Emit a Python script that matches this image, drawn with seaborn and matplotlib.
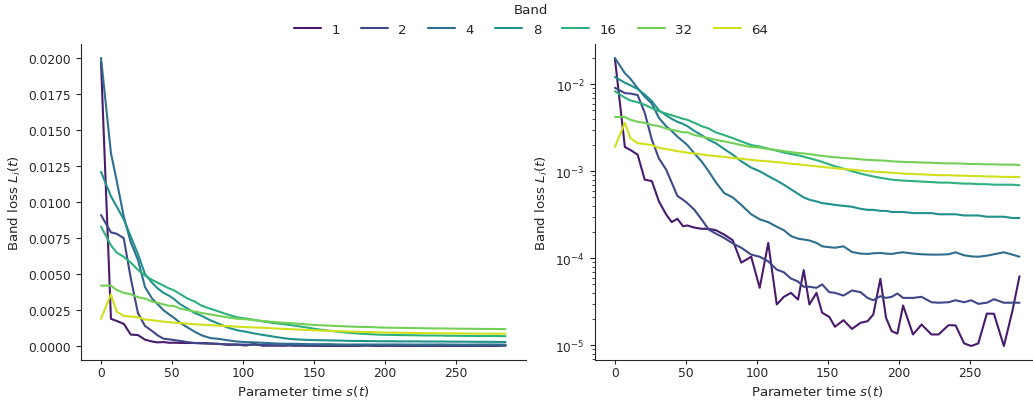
import numpy as np
import pandas as pd
import matplotlib
matplotlib.use("Agg")
import matplotlib.pyplot as plt
import seaborn as sns

# parameter time s(t) at each logged step
s = [0, 7, 11, 16, 21, 26, 31, 36, 40, 44, 48, 51, 56, 61, 66, 71, 77, 83, 89, 96,
     102, 108, 114, 119, 124, 129, 133, 137, 142, 146, 151, 155, 161, 167, 173, 178,
     182, 187, 191, 195, 199, 203, 210, 216, 223, 228, 235, 240, 246, 251, 256, 262,
     267, 274, 280, 285]

bands = [1, 2, 4, 8, 16, 32, 64]

loss_1 = [0.0197, 0.0019, 0.00175, 0.00155, 0.0008, 0.00077, 0.00045, 0.00032, 0.00026,
          0.000284, 0.000233, 0.000238, 0.000225, 0.000218, 0.000218, 0.00021, 0.000187,
          0.000161, 8.9e-05, 0.000104, 4.57e-05, 0.00015, 2.94e-05, 3.6e-05, 4e-05,
          3.35e-05, 7.3e-05, 2.94e-05, 4e-05, 2.36e-05, 2.12e-05, 1.63e-05, 1.94e-05,
          1.54e-05, 1.81e-05, 1.89e-05, 2.25e-05, 5.8e-05, 2.06e-05, 1.45e-05, 1.36e-05,
          2.86e-05, 1.33e-05, 1.73e-05, 1.33e-05, 1.33e-05, 1.7e-05, 1.69e-05, 1.05e-05,
          9.8e-06, 1.05e-05, 2.31e-05, 2.3e-05, 9.8e-06, 2.47e-05, 6.2e-05]
loss_2 = [0.0091, 0.0079, 0.0078, 0.0075, 0.0047, 0.0023, 0.0014, 0.00105, 0.00074,
          0.00052, 0.00047, 0.00043, 0.00036, 0.00028, 0.000214, 0.000192, 0.000171,
          0.000148, 0.000132, 0.00011, 0.000104, 9.2e-05, 7.4e-05, 6.9e-05, 5.85e-05,
          5.4e-05, 4.7e-05, 4.7e-05, 4.57e-05, 5e-05, 4.07e-05, 4e-05, 3.72e-05, 4.26e-05,
          4.07e-05, 3.5e-05, 3.29e-05, 3.66e-05, 3.5e-05, 3.6e-05, 3.93e-05, 3.5e-05,
          3.5e-05, 3.6e-05, 3.12e-05, 3.08e-05, 3.12e-05, 3.29e-05, 3.12e-05, 3.29e-05,
          2.99e-05, 3.08e-05, 3.38e-05, 3.08e-05, 3.08e-05, 3.08e-05]
loss_4 = [0.02, 0.0134, 0.0115, 0.009, 0.0072, 0.006, 0.0041, 0.0033, 0.0029, 0.0025,
          0.0022, 0.002, 0.0016, 0.0013, 0.001, 0.00075, 0.00056, 0.0005, 0.00041,
          0.00032, 0.00028, 0.00026, 0.00023, 0.00021, 0.00018, 0.000168, 0.000164,
          0.00016, 0.00015, 0.000137, 0.000134, 0.000132, 0.000137, 0.000118, 0.000113,
          0.000112, 0.000114, 0.000115, 0.000113, 0.000112, 0.000115, 0.000117, 0.000113,
          0.000111, 0.00011, 0.00011, 0.000111, 0.000117, 0.000108, 0.000105, 0.000104,
          0.000107, 0.000111, 0.000117, 0.00011, 0.000104]
loss_8 = [0.0121, 0.0104, 0.0097, 0.0088, 0.0076, 0.0064, 0.005, 0.0044, 0.004, 0.0037,
          0.0035, 0.0033, 0.0029, 0.0026, 0.0023, 0.0021, 0.0018, 0.00155, 0.0013, 0.0011,
          0.001, 0.00088, 0.00078, 0.0007, 0.00062, 0.00055, 0.0005, 0.00047, 0.00045,
          0.00043, 0.00042, 0.00041, 0.0004, 0.00039, 0.00037, 0.00036, 0.00036, 0.00035,
          0.00035, 0.00034, 0.00034, 0.00034, 0.00033, 0.00033, 0.00033, 0.00032, 0.00032,
          0.00032, 0.00031, 0.00031, 0.00031, 0.0003, 0.0003, 0.0003, 0.00029, 0.00029]
loss_16 = [0.0083, 0.007, 0.0065, 0.0062, 0.0058, 0.0053, 0.0049, 0.0046, 0.0044, 0.0042,
           0.004, 0.0039, 0.0036, 0.0033, 0.0031, 0.0028, 0.0026, 0.0024, 0.0022, 0.002,
           0.00192, 0.00182, 0.00172, 0.00164, 0.00158, 0.00152, 0.00147, 0.00141, 0.00134,
           0.00128, 0.0012, 0.00114, 0.00107, 0.001, 0.00094, 0.0009, 0.00087, 0.00084,
           0.00082, 0.0008, 0.00079, 0.00078, 0.00077, 0.00076, 0.00075, 0.00074, 0.00074,
           0.00073, 0.00072, 0.00072, 0.00071, 0.00071, 0.0007, 0.0007, 0.0007, 0.00069]
loss_32 = [0.0042, 0.0042, 0.0039, 0.0037, 0.0036, 0.0034, 0.0033, 0.0031, 0.003, 0.0029,
           0.0028, 0.0028, 0.0026, 0.0025, 0.0024, 0.0023, 0.0022, 0.0021, 0.002, 0.0019,
           0.00187, 0.0018, 0.00175, 0.0017, 0.00166, 0.00162, 0.0016, 0.00157, 0.00153,
           0.0015, 0.00147, 0.00145, 0.00142, 0.0014, 0.00137, 0.00135, 0.00134, 0.00133,
           0.00132, 0.0013, 0.00129, 0.00128, 0.00127, 0.00126, 0.00125, 0.00124, 0.00123,
           0.00123, 0.00122, 0.00121, 0.00121, 0.0012, 0.0012, 0.00119, 0.00119, 0.00118]
loss_64 = [0.0019, 0.0036, 0.0024, 0.0021, 0.00205, 0.002, 0.00185, 0.0018, 0.00175,
           0.0017, 0.00167, 0.00163, 0.0016, 0.00156, 0.00152, 0.00149, 0.00146, 0.00142,
           0.00139, 0.00135, 0.00132, 0.0013, 0.00127, 0.00125, 0.00122, 0.0012, 0.00118,
           0.00116, 0.00114, 0.00112, 0.0011, 0.00108, 0.00106, 0.00104, 0.00102, 0.001,
           0.00099, 0.00098, 0.00097, 0.00096, 0.00095, 0.00094, 0.00093, 0.00092, 0.00091,
           0.0009, 0.0009, 0.00089, 0.00089, 0.00088, 0.00088, 0.00087, 0.00087, 0.00086,
           0.00086, 0.00086]

losses = [loss_1, loss_2, loss_4, loss_8, loss_16, loss_32, loss_64]

frames = []
for b, vals in zip(bands, losses):
    frames.append(pd.DataFrame({"s": s, "loss": vals, "Band": b}))
df = pd.concat(frames, ignore_index=True)

sns.set_style("ticks")
plt.rcParams["xtick.labelsize"] = 8.8
plt.rcParams["ytick.labelsize"] = 8.8
plt.rcParams["axes.labelsize"] = 9.6
plt.rcParams["xtick.major.size"] = 3
plt.rcParams["xtick.major.pad"] = 1
plt.rcParams["axes.labelpad"] = 3

# sample viridis at bin centres
palette = [tuple(c[:3]) for c in plt.cm.viridis((np.arange(len(bands)) + 0.5) / len(bands))]

fig = plt.figure(figsize=(10.33, 4.02), dpi=100)
ax1 = fig.add_axes([0.0782, 0.101, 0.4308, 0.788])
ax2 = fig.add_axes([0.5757, 0.101, 0.4308, 0.788])

for ax, logy in [(ax1, False), (ax2, True)]:
    sns.lineplot(data=df, x="s", y="loss", hue="Band", palette=palette,
                 hue_order=bands, ax=ax, legend=(ax is ax1))
    if logy:
        ax.set_yscale("log")
    ax.set_xlabel("Parameter time $s(t)$")
    ax.set_ylabel("Band loss $L_i(t)$", labelpad=4)
    sns.despine(ax=ax)

handles, labels = ax1.get_legend_handles_labels()
ax1.get_legend().remove()
fig.legend(handles, labels, title="Band", loc="upper center",
           bbox_to_anchor=(0.514, 1.02), ncol=7, frameon=False,
           fontsize=9.6, title_fontsize=9.6, columnspacing=1.6)

fig.savefig("out.png", dpi=100)
